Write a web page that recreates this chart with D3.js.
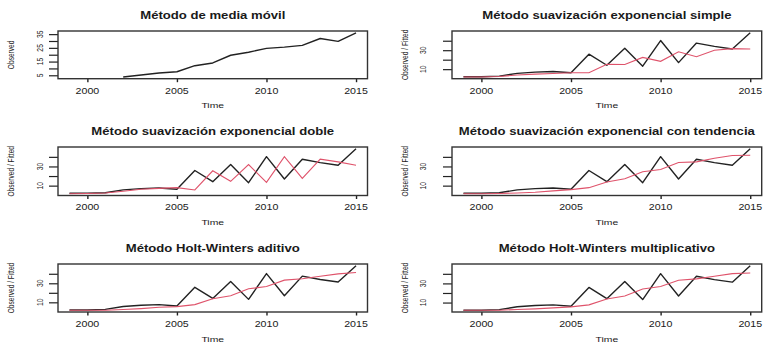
<html>
<head>
<script src="https://d3js.org/d3.v7.min.js"></script>
<style>
  body { margin: 0; background: #fff; }
  svg { display: block; }
  text { font-family: "Liberation Sans", Arial, sans-serif; fill: #1a1a1a; }
</style>
</head>
<body>
<svg id="chart"></svg>
<script>
// data, one value per year
const years = [1999, 2000, 2001, 2002, 2003, 2004, 2005, 2006, 2007, 2008, 2009, 2010, 2011, 2012, 2013, 2014, 2015];
const observed = [2.0, 2.0, 2.6, 5.6, 6.9, 7.6, 6.2, 25.8, 14.1, 32.0, 13.1, 40.2, 16.9, 37.5, 34.0, 31.3, 48.4];
const movingAvg = [null, null, null, 3.8, 5.2, 6.7, 7.6, 12.0, 14.0, 19.6, 21.8, 24.6, 25.5, 26.8, 31.8, 29.7, 36.0];
const fitSimple = [1.8, 1.8, 2.3, 3.8, 4.8, 5.5, 6.2, 6.2, 15.2, 14.9, 22.4, 18.3, 28.3, 23.1, 30.0, 31.7, 31.3];
const fitDouble = [1.6, 1.8, 2.4, 4.1, 6.2, 7.2, 7.9, 5.5, 25.5, 14.5, 32.0, 13.4, 40.3, 17.6, 37.6, 34.8, 31.3];
const fitTrend = [1.6, 1.6, 1.8, 2.4, 3.1, 4.5, 5.9, 7.9, 13.8, 17.2, 24.5, 26.9, 34.1, 34.8, 38.6, 41.4, 41.7];
const fitHWAdd = [1.7, 1.7, 1.7, 2.4, 3.4, 4.8, 5.5, 7.6, 13.8, 16.9, 24.2, 26.7, 33.3, 34.7, 37.4, 39.9, 41.3];
const fitHWMult = [2.0, 2.0, 2.0, 2.7, 3.4, 4.4, 5.5, 7.6, 13.8, 16.9, 24.2, 26.7, 33.3, 34.7, 37.4, 40.2, 40.9];

const titles = [
  "Método de media móvil",
  "Método suavización exponencial simple",
  "Método suavización exponencial doble",
  "Método suavización exponencial con tendencia",
  "Método Holt-Winters aditivo",
  "Método Holt-Winters multiplicativo"
];
const xTicks = [2000, 2005, 2010, 2015];
const yTicksMA = [5, 10, 15, 20, 25, 30, 35];
const yLabelsMA = [5, 15, 25, 35];
const yTicksFit = [10, 20, 30, 40];
const yLabelsFit = [10, 30];

const panels = [
  { title: titles[0], ylab: "Observed", obs: movingAvg, fit: null, yTicks: yTicksMA, yLabels: yLabelsMA },
  { title: titles[1], ylab: "Observed / Fitted", obs: observed, fit: fitSimple, yTicks: yTicksFit, yLabels: yLabelsFit },
  { title: titles[2], ylab: "Observed / Fitted", obs: observed, fit: fitDouble, yTicks: yTicksFit, yLabels: yLabelsFit },
  { title: titles[3], ylab: "Observed / Fitted", obs: observed, fit: fitTrend, yTicks: yTicksFit, yLabels: yLabelsFit },
  { title: titles[4], ylab: "Observed / Fitted", obs: observed, fit: fitHWAdd, yTicks: yTicksFit, yLabels: yLabelsFit },
  { title: titles[5], ylab: "Observed / Fitted", obs: observed, fit: fitHWMult, yTicks: yTicksFit, yLabels: yLabelsFit }
];

const width = 776, height = 353;
const colX = [[58, 367.5], [452, 761.7]];
const rowY = [[31, 78.7], [147, 195.5], [264, 312]];
const labelGap = [18, 29];   // y tick labels sit further out in the right column
const sx = 1.3;              // the picture is stretched sideways

const svg = d3.select("#chart").attr("width", width).attr("height", height);

// text helper, stretched horizontally like the reference
function label(g, x, y, txt, size, opts = {}) {
  const t = g.append("text")
    .attr("transform", `translate(${x},${y}) scale(${sx},1)` + (opts.rotate ? " rotate(-90)" : ""))
    .attr("text-anchor", opts.anchor || "middle")
    .style("font-size", size + "px")
    .text(txt);
  if (opts.bold) t.style("font-weight", "bold");
  if (opts.middle) t.attr("dy", "0.35em");
  return t;
}

panels.forEach((p, i) => {
  const col = i % 2, row = Math.floor(i / 2);
  const [x0, x1] = colX[col], [y0, y1] = rowY[row];
  const g = svg.append("g");

  // R style 4% padding on both axes
  const xPad = (years[years.length - 1] - years[0]) * 0.04;
  const x = d3.scaleLinear().domain([years[0] - xPad, years[years.length - 1] + xPad]).range([x0, x1]);
  const vals = p.obs.concat(p.fit || []).filter(v => v != null);
  const lo = d3.min(vals), hi = d3.max(vals), yPad = (hi - lo) * 0.04;
  const y = d3.scaleLinear().domain([lo - yPad, hi + yPad]).range([y1, y0]);

  g.append("g")
    .attr("transform", `translate(0,${y1})`)
    .call(d3.axisBottom(x).tickValues(xTicks).tickSize(3.5).tickFormat(""))
    .call(a => a.select(".domain").remove())
    .selectAll("line").attr("stroke", "#222").attr("stroke-width", 1.4);

  g.append("g")
    .attr("transform", `translate(${x0},0)`)
    .call(d3.axisLeft(y).tickValues(p.yTicks).tickSize(9).tickFormat(""))
    .call(a => a.select(".domain").remove())
    .selectAll("line").attr("stroke", "#222").attr("stroke-width", 1.2);

  xTicks.forEach(t => label(g, x(t), y1 + 14.8, t, 8.2));
  p.yLabels.forEach(t => label(g, x0 - labelGap[col], y(t), t, 6.8, { rotate: true, middle: true }));

  label(g, (x0 + x1) / 2, y0 - 12.5, p.title, 10.1, { bold: true });
  label(g, (x0 + x1) / 2, y1 + 29.5, "Time", 8);
  label(g, x0 - 47, (y0 + y1) / 2, p.ylab, 6.6, { rotate: true, middle: true });

  const line = d3.line()
    .defined(d => d != null)
    .x((d, j) => x(years[j]))
    .y(d => y(d));

  g.append("path").datum(p.obs)
    .attr("fill", "none").attr("stroke", "#222").attr("stroke-width", 1.4)
    .attr("stroke-linejoin", "round")
    .attr("d", line);

  if (p.fit) {
    g.append("path").datum(p.fit)
      .attr("fill", "none").attr("stroke", "#DF536B").attr("stroke-width", 1.1)
      .attr("d", line);
  }

  g.append("rect")
    .attr("x", x0).attr("y", y0)
    .attr("width", x1 - x0).attr("height", y1 - y0)
    .attr("fill", "none").attr("stroke", "#333").attr("stroke-width", 1.4);
});
</script>
</body>
</html>
